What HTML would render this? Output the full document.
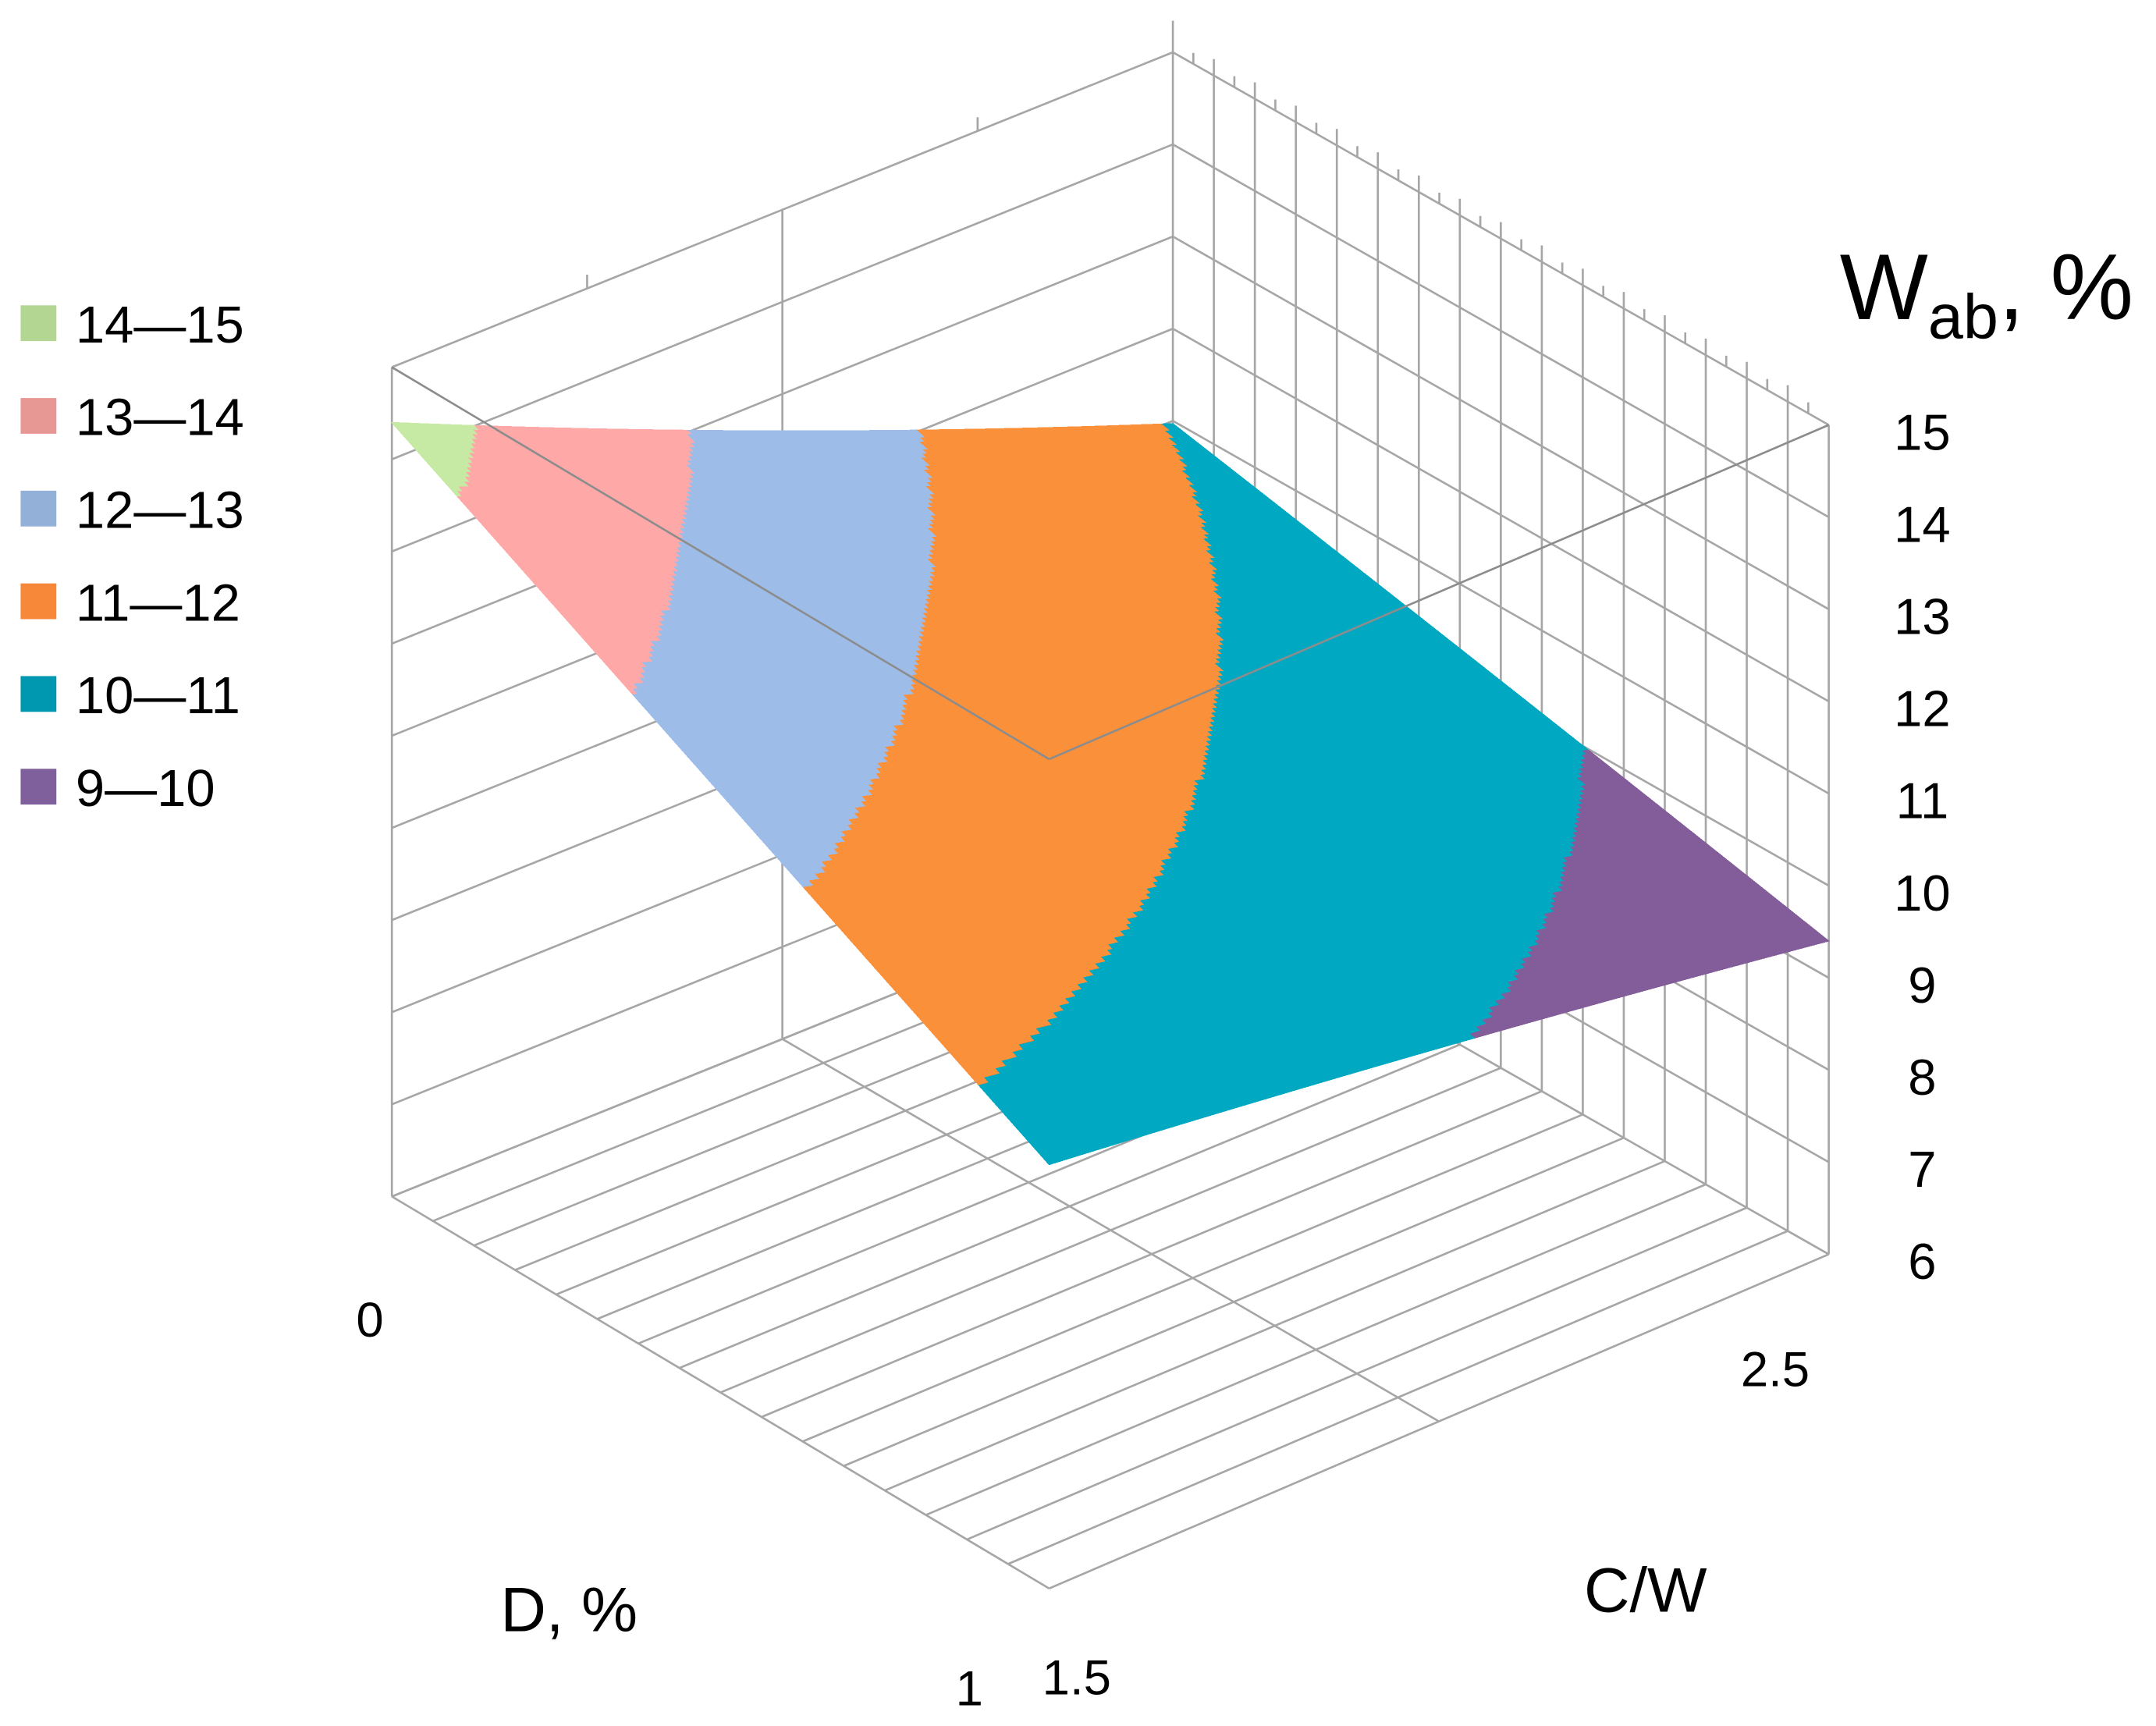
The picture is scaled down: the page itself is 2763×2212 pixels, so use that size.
<!DOCTYPE html>
<html><head><meta charset="utf-8"><style>
html,body{margin:0;padding:0;background:#fff;}
svg{display:block;}
text{font-family:"Liberation Sans",sans-serif;fill:#000;}
</style></head><body>
<svg id="chart" width="2763" height="2212" viewBox="0 0 1568 1255" preserveAspectRatio="none" xmlns="http://www.w3.org/2000/svg">
<g id="grid"></g>
<g id="surf" shape-rendering="crispEdges"></g>
<g id="over"></g>
<g id="legend"></g>
<g id="zaxis"></g>
<text x="1338" y="232" font-size="68">W<tspan font-size="46" dy="14">ab</tspan><tspan dy="-14">, %</tspan></text>
<text x="364" y="1186" font-size="46">D, %</text>
<text x="1152" y="1172" font-size="46">C/W</text>
<text x="259" y="972" font-size="36">0</text>
<text x="695" y="1240" font-size="36">1</text>
<text x="758" y="1232" font-size="36">1.5</text>
<text x="1266" y="1008" font-size="36">2.5</text>
</svg>
<script>
// data
const dVals = [0, 0.5, 1];
const cwVals = [1.5, 2.05, 2.6];
const wabRowD0 = [14.4, 12.6, 10.97];
const wabRowD05 = [12.5, 11.3, 10.2];
const wabRowD1 = [10.6, 10.05, 9.4];
const zTicks = [6, 7, 8, 9, 10, 11, 12, 13, 14, 15];
const bandLow = [14, 13, 12, 11, 10, 9];
const bandLabels = ["14\u201415", "13\u201414", "12\u201413", "11\u201412", "10\u201411", "9\u201410"];
const bandColors = ["#c6e9a4", "#ffa8a8", "#9dbde8", "#fb903b", "#00a8c2", "#835c9a"];
const legendColors = ["#b3d693", "#e79895", "#92b0d8", "#f7883a", "#0098b0", "#7f5f9c"];

const NS = "http://www.w3.org/2000/svg";
const grid = [wabRowD0, wabRowD05, wabRowD1];
const P = {L:[285,870], F:[763,1155], B:[853,641], R:[1330,912]};
const zMin = 6, zStep = 67;
function floorPt(d, u){
  const x = (1-d)*(1-u)*P.L[0] + d*(1-u)*P.F[0] + (1-d)*u*P.B[0] + d*u*P.R[0];
  const y = (1-d)*(1-u)*P.L[1] + d*(1-u)*P.F[1] + (1-d)*u*P.B[1] + d*u*P.R[1];
  return [x, y];
}
function proj(dVal, cw, z){
  const d = (dVal - dVals[0])/(dVals[2]-dVals[0]);
  const u = (cw - cwVals[0])/(cwVals[2]-cwVals[0]);
  const p = floorPt(d, u);
  return [p[0], p[1] - (z - zMin)*zStep];
}
function lag(t){ return [2*(t-0.5)*(t-1), -4*t*(t-1), 2*t*(t-0.5)]; }
function zAt(d, u){
  const a = lag(d), b = lag(u); let s = 0;
  for(let i=0;i<3;i++) for(let j=0;j<3;j++) s += a[i]*b[j]*grid[i][j];
  return s;
}
function line(g, p1, p2, name, w, col){
  const l = document.createElementNS(NS, "line");
  l.setAttribute("x1", p1[0]); l.setAttribute("y1", p1[1]);
  l.setAttribute("x2", p2[0]); l.setAttribute("y2", p2[1]);
  l.setAttribute("stroke", col || "#a6a6a6"); l.setAttribute("stroke-width", w || 1.5);
  
  
  g.appendChild(l);
}
const G = document.getElementById("grid");
const cwAt = u => cwVals[0] + u*(cwVals[2]-cwVals[0]);
const dAt = t => dVals[0] + t*(dVals[2]-dVals[0]);
zTicks.forEach(z => {
  line(G, proj(dAt(0), cwAt(0), z), proj(dAt(0), cwAt(1), z), "left-wall-gridline");
  line(G, proj(dAt(0), cwAt(1), z), proj(dAt(1), cwAt(1), z), "right-wall-gridline");
});
const zTop = zTicks[zTicks.length-1], zBot = zTicks[0];
line(G, proj(dAt(0), cwAt(0), zBot), proj(dAt(0), cwAt(0), zTop), "left-axis-line");
line(G, proj(dAt(0), cwAt(0.5), zBot), proj(dAt(0), cwAt(0.5), zTop), "left-wall-vertical");
line(G, proj(dAt(0), cwAt(1), zBot), [P.B[0], P.B[1]-(zTop-zMin)*zStep-23], "back-corner-line");
line(G, proj(dAt(1), cwAt(1), zBot), proj(dAt(1), cwAt(1), zTop), "right-axis-line");
[0.25, 0.75].forEach(u => { const p = proj(dAt(0), cwAt(u), zTop); line(G, p, [p[0], p[1]-10], "left-wall-tick"); });
for(let k=1;k<16;k++){
  const t = k/16;
  line(G, proj(dAt(t), cwAt(1), zBot), proj(dAt(t), cwAt(1), zTop), "right-wall-vertical");
}
for(let k=1;k<32;k++){
  const p = proj(dAt(k/32), cwAt(1), zTop);
  line(G, p, [p[0], p[1]-(k%2?8:12)], "right-wall-tick");
}
for(let k=0;k<=16;k++){
  const t = k/16;
  line(G, proj(dAt(t), cwAt(0), zBot), proj(dAt(t), cwAt(1), zBot), "floor-d-gridline");
}
[0, 0.5].forEach(u => line(G, proj(dAt(0), cwAt(u), zBot), proj(dAt(1), cwAt(u), zBot), "floor-cw-gridline"));

// surface
const S = document.getElementById("surf");
const N = 150;
function bandIdx(z){ for(let i=0;i<bandLow.length;i++) if(z >= bandLow[i]) return i; return bandLow.length-1; }
let paths = bandColors.map(() => []);
for(let i=0;i<N;i++) for(let j=0;j<N;j++){
  const d0=i/N, d1=(i+1)/N, u0=j/N, u1=(j+1)/N;
  const pts = [[d0,u0],[d1,u0],[d1,u1],[d0,u1]].map(q => proj(dAt(q[0]), cwAt(q[1]), zAt(q[0], q[1])));
  const b = bandIdx(zAt((d0+d1)/2, (u0+u1)/2));
  paths[b].push("M" + pts.map(p => p[0].toFixed(2)+","+p[1].toFixed(2)).join("L") + "Z");
}
paths.forEach((arr, b) => {
  if(!arr.length) return;
  const pth = document.createElementNS(NS, "path");
  pth.setAttribute("d", arr.join(""));
  pth.setAttribute("fill", bandColors[b]); pth.setAttribute("stroke", bandColors[b]); pth.setAttribute("stroke-width", "0.7");
  
  
  S.appendChild(pth);
});
const O = document.getElementById("over");
line(O, proj(dAt(0), cwAt(0), zTop), proj(dAt(1), cwAt(0), zTop), "top-front-edge", 1.5, "#8c8c8c");
line(O, proj(dAt(1), cwAt(0), zTop), proj(dAt(1), cwAt(1), zTop), "top-right-edge", 1.5, "#8c8c8c");

const ZA = document.getElementById("zaxis");
zTicks.forEach(z => {
  const p = proj(dAt(1), cwAt(1), z);
  const t = document.createElementNS(NS, "text");
  t.setAttribute("x", 1398); t.setAttribute("y", p[1]+18);
  t.setAttribute("font-size", "37"); t.setAttribute("text-anchor", "middle");
  t.textContent = z;
  
  
  ZA.appendChild(t);
});
const LG = document.getElementById("legend");
bandLabels.forEach((lab, i) => {
  const cy = 235 + i*67.4;
  const r = document.createElementNS(NS, "rect");
  r.setAttribute("x", 15); r.setAttribute("y", cy-13); r.setAttribute("width", 26); r.setAttribute("height", 26);
  r.setAttribute("fill", legendColors[i]);
  
  
  LG.appendChild(r);
  const t = document.createElementNS(NS, "text");
  t.setAttribute("x", 55); t.setAttribute("y", cy+14); t.setAttribute("font-size", "38");
  t.textContent = lab;
  
  
  LG.appendChild(t);
});
</script>
</body></html>
